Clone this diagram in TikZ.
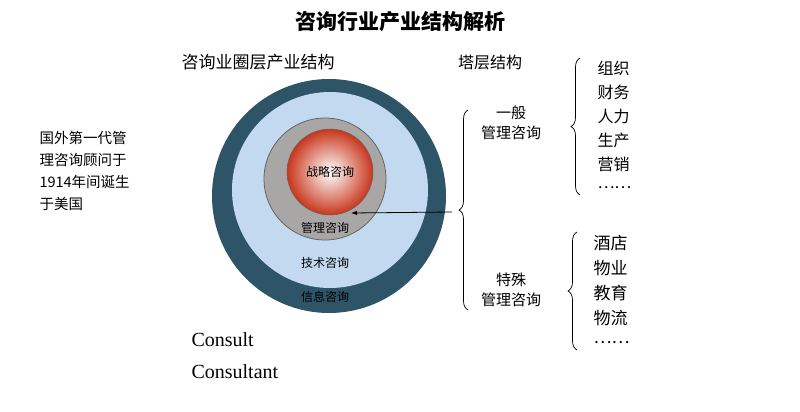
\documentclass[tikz,border=0pt]{standalone}
\usepackage{fontspec}
\setmainfont{Liberation Serif}
\newfontfamily\cjk{Noto Sans CJK SC}
\usetikzlibrary{decorations.pathreplacing,arrows.meta}
\definecolor{outerc}{HTML}{2E5468}
\definecolor{lblue}{HTML}{C3D9EF}
\definecolor{grayc}{HTML}{A9A6A6}
\definecolor{redc}{HTML}{C8361C}
\begin{document}
\begin{tikzpicture}[x=1pt,y=-1pt,
  lab/.style={font=\cjk\fontsize{12}{14}\selectfont,align=center},
  txt/.style={font=\cjk\fontsize{15}{20}\selectfont,align=center},
  item/.style={font=\cjk\fontsize{16}{20}\selectfont,anchor=west},
  br/.style={decorate,decoration={brace,amplitude=9pt},line width=0.7pt}]
\useasboundingbox (0,0) rectangle (800,412);
\node[font=\cjk\bfseries\fontsize{21}{24}\selectfont] (title) at (400,22) {咨询行业产业结构解析};
\node[txt,font=\cjk\fontsize{17}{20}\selectfont] (h1) at (258,62) {咨询业圈层产业结构};
\node[txt,font=\cjk\fontsize{16}{20}\selectfont] (h2) at (490,62) {塔层结构};
\node[font=\cjk\fontsize{14.5}{22}\selectfont,align=left,anchor=north west] (left) at (36,128) {国外第一代管\\理咨询顾问于\\1914年间诞生\\于美国};
\fill[outerc] (329,196) circle (117);
\fill[lblue] (330,190) circle (98);
\draw[grayc!60!black,fill=grayc,line width=0.8pt] (325,179) circle (61);
\shade[inner color=white,outer color=redc] (330,172) circle (43);
\draw[grayc!60!black,line width=0.5pt] (330,172) circle (43);
\node[lab] (c1) at (330,172) {战略咨询};
\node[lab] (c2) at (325,228) {管理咨询};
\node[lab] (c3) at (325,263) {技术咨询};
\node[lab] (c4) at (325,297) {信息咨询};
\coordinate (tip) at (452,212);
\coordinate (arrEnd) at (351,213);
\draw[br] (468,310) -- (468,110);
\draw[-{Latex[length=6pt]},line width=0.8pt] (tip) -- (arrEnd);
\node[txt] (g1) at (511,123) {一般\\管理咨询};
\node[txt] (g2) at (511,290) {特殊\\管理咨询};
\draw[br] (580,195) -- (580,58);
\draw[br] (577,350) -- (577,232);
\foreach \t [count=\i] in {组织,财务,人力,生产,营销,……}
  \node[item] (a\i) at (594,44+24*\i) {\t};
\foreach \t [count=\i] in {酒店,物业,教育,物流,……}
  \node[item,font=\cjk\fontsize{17}{20}\selectfont] (b\i) at (590,218+25*\i) {\t};
\node[font=\fontsize{20}{22}\selectfont,anchor=west] (e1) at (188,340) {Consult};
\node[font=\fontsize{20}{22}\selectfont,anchor=west] (e2) at (188,372) {Consultant};
\end{tikzpicture}
\end{document}
